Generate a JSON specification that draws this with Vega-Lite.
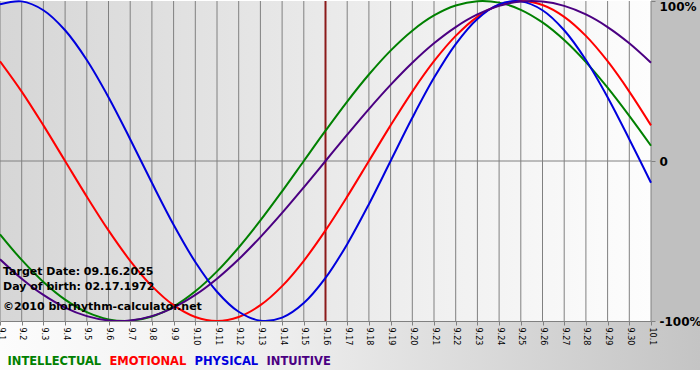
{
  "$schema": "https://vega.github.io/schema/vega-lite/v6.json",
  "width": 651,
  "height": 320,
  "autosize": {"type": "none"},
  "padding": {"left": 0, "top": 1, "right": 49, "bottom": 59},
  "background": "#ffffff",
  "config": {
    "view": {"stroke": "#808080", "strokeWidth": 1},
    "font": "DejaVu Sans",
    "axis": {"title": null, "grid": false, "zindex": 1, "tickColor": "#808080", "domainColor": "#808080", "labelColor": "#000000", "labelFont": "DejaVu Sans"}
  },
  "data": {"values": [
    {"date": "2025-09-01", "intellectual": -0.4582, "emotional": 0.6235, "physical": 0.9791, "intuitive": -0.6142},
    {"date": "2025-09-02", "intellectual": -0.6182, "emotional": 0.4339, "physical": 0.9977, "intuitive": -0.7357},
    {"date": "2025-09-03", "intellectual": -0.7557, "emotional": 0.2225, "physical": 0.9423, "intuitive": -0.8372},
    {"date": "2025-09-04", "intellectual": -0.8660, "emotional": 0.0, "physical": 0.8170, "intuitive": -0.9158},
    {"date": "2025-09-05", "intellectual": -0.9450, "emotional": -0.2225, "physical": 0.6311, "intuitive": -0.9694},
    {"date": "2025-09-06", "intellectual": -0.9898, "emotional": -0.4339, "physical": 0.3984, "intuitive": -0.9966},
    {"date": "2025-09-07", "intellectual": -0.9989, "emotional": -0.6235, "physical": 0.1362, "intuitive": -0.9966},
    {"date": "2025-09-08", "intellectual": -0.9718, "emotional": -0.7818, "physical": -0.1362, "intuitive": -0.9694},
    {"date": "2025-09-09", "intellectual": -0.9096, "emotional": -0.9010, "physical": -0.3984, "intuitive": -0.9158},
    {"date": "2025-09-10", "intellectual": -0.8146, "emotional": -0.9749, "physical": -0.6311, "intuitive": -0.8372},
    {"date": "2025-09-11", "intellectual": -0.6901, "emotional": -1.0, "physical": -0.8170, "intuitive": -0.7357},
    {"date": "2025-09-12", "intellectual": -0.5406, "emotional": -0.9749, "physical": -0.9423, "intuitive": -0.6142},
    {"date": "2025-09-13", "intellectual": -0.3717, "emotional": -0.9010, "physical": -0.9977, "intuitive": -0.4759},
    {"date": "2025-09-14", "intellectual": -0.1893, "emotional": -0.7818, "physical": -0.9791, "intuitive": -0.3247},
    {"date": "2025-09-15", "intellectual": 0.0, "emotional": -0.6235, "physical": -0.8879, "intuitive": -0.1646},
    {"date": "2025-09-16", "intellectual": 0.1893, "emotional": -0.4339, "physical": -0.7308, "intuitive": 0.0},
    {"date": "2025-09-17", "intellectual": 0.3717, "emotional": -0.2225, "physical": -0.5196, "intuitive": 0.1646},
    {"date": "2025-09-18", "intellectual": 0.5406, "emotional": 0.0, "physical": -0.2698, "intuitive": 0.3247},
    {"date": "2025-09-19", "intellectual": 0.6901, "emotional": 0.2225, "physical": 0.0, "intuitive": 0.4759},
    {"date": "2025-09-20", "intellectual": 0.8146, "emotional": 0.4339, "physical": 0.2698, "intuitive": 0.6142},
    {"date": "2025-09-21", "intellectual": 0.9096, "emotional": 0.6235, "physical": 0.5196, "intuitive": 0.7357},
    {"date": "2025-09-22", "intellectual": 0.9718, "emotional": 0.7818, "physical": 0.7308, "intuitive": 0.8372},
    {"date": "2025-09-23", "intellectual": 0.9989, "emotional": 0.9010, "physical": 0.8879, "intuitive": 0.9158},
    {"date": "2025-09-24", "intellectual": 0.9898, "emotional": 0.9749, "physical": 0.9791, "intuitive": 0.9694},
    {"date": "2025-09-25", "intellectual": 0.9450, "emotional": 1.0, "physical": 0.9977, "intuitive": 0.9966},
    {"date": "2025-09-26", "intellectual": 0.8660, "emotional": 0.9749, "physical": 0.9423, "intuitive": 0.9966},
    {"date": "2025-09-27", "intellectual": 0.7557, "emotional": 0.9010, "physical": 0.8170, "intuitive": 0.9694},
    {"date": "2025-09-28", "intellectual": 0.6182, "emotional": 0.7818, "physical": 0.6311, "intuitive": 0.9158},
    {"date": "2025-09-29", "intellectual": 0.4582, "emotional": 0.6235, "physical": 0.3984, "intuitive": 0.8372},
    {"date": "2025-09-30", "intellectual": 0.2817, "emotional": 0.4339, "physical": 0.1362, "intuitive": 0.7357},
    {"date": "2025-10-01", "intellectual": 0.0951, "emotional": 0.2225, "physical": -0.1362, "intuitive": 0.6142}
  ]},
  "layer": [
    {
      "transform": [{"fold": ["intellectual", "emotional", "physical", "intuitive"], "as": ["cycle", "value"]}],
      "mark": {"type": "line", "interpolate": "catmull-rom", "strokeWidth": 2, "opacity": 0},
      "encoding": {
        "x": {
          "field": "date", "type": "temporal",
          "scale": {"type": "utc", "domain": [{"year": 2025, "month": 9, "date": 1, "utc": true}, {"year": 2025, "month": 10, "date": 1, "utc": true}], "nice": false},
          "axis": {"orient": "bottom", "title": null, "grid": false, "tickCount": {"interval": "day", "step": 1}, "format": "%-m.%-d", "labelAngle": 90, "labelOverlap": false, "labelFlush": false, "labelBound": false, "labelFontSize": 8, "labelPadding": 2, "tickSize": 4, "zindex": 1}
        },
        "y": {
          "field": "value", "type": "quantitative",
          "scale": {"domain": [-1, 1], "nice": false, "zero": false},
          "axis": {"orient": "right", "title": null, "grid": false, "values": [-1, 0, 1], "labelExpr": "datum.value == 1 ? '100%' : datum.value == 0 ? '0' : '-100%'", "domain": false, "ticks": true, "tickSize": 4, "labelPadding": 4, "labelFontSize": 12, "labelFontWeight": "bold", "labelAlign": "left", "labelBaseline": {"condition": {"test": "datum.value == 1", "value": "top"}, "value": "middle"}, "zindex": 1}
        }
      }
    },
    {
      "data": {"values": [{}]},
      "mark": {"type": "rect", "fill": {"gradient": "linear", "x1": 0, "y1": 0, "x2": 1, "y2": 0, "stops": [{"offset": 0, "color": "#d6d6d6"}, {"offset": 1, "color": "#fdfdfd"}]}},
      "encoding": {}
    },
    {
      "data": {"values": [{}]},
      "mark": {"type": "rect", "fill": "#c0c0c0"},
      "encoding": {
        "x": {"datum": {"year": 2025, "month": 10, "date": 1, "utc": true}, "type": "temporal"},
        "x2": {"datum": {"year": 2025, "month": 10, "date": 3, "hours": 6, "minutes": 12, "utc": true}},
        "y": {"datum": 1.01, "type": "quantitative"},
        "y2": {"datum": -1}
      }
    },
    {
      "data": {"values": [{}]},
      "mark": {"type": "rect", "fill": {"gradient": "linear", "x1": 0, "y1": 0, "x2": 1, "y2": 0, "stops": [{"offset": 0, "color": "#fcfcfc"}, {"offset": 0.4, "color": "#eeeeee"}, {"offset": 1, "color": "#c4c4c4"}]}},
      "encoding": {
        "x": {"datum": {"year": 2025, "month": 9, "date": 1, "utc": true}, "type": "temporal"},
        "x2": {"datum": {"year": 2025, "month": 10, "date": 3, "hours": 6, "minutes": 12, "utc": true}},
        "y": {"datum": -1, "type": "quantitative"},
        "y2": {"datum": -1.306}
      }
    },
    {
      "mark": {"type": "rule", "color": "#808080", "strokeWidth": 1},
      "encoding": {
        "x": {"field": "date", "type": "temporal"}
      }
    },
    {
      "data": {"values": [{}]},
      "mark": {"type": "rule", "color": "#808080", "strokeWidth": 1},
      "encoding": {
        "y": {"datum": 0, "type": "quantitative"}
      }
    },
    {
      "data": {"values": [{}]},
      "mark": {"type": "rule", "color": "#8b1a1a", "strokeWidth": 2},
      "encoding": {
        "x": {"datum": {"year": 2025, "month": 9, "date": 16, "utc": true}, "type": "temporal"}
      }
    },
    {
      "transform": [{"fold": ["intellectual", "emotional", "physical", "intuitive"], "as": ["cycle", "value"]}],
      "mark": {"type": "line", "interpolate": "catmull-rom", "strokeWidth": 2},
      "encoding": {
        "x": {"field": "date", "type": "temporal"},
        "y": {"field": "value", "type": "quantitative"},
        "color": {
          "field": "cycle", "type": "nominal",
          "scale": {"domain": ["intellectual", "emotional", "physical", "intuitive"], "range": ["#008000", "#ff0000", "#0000dd", "#4b0082"]},
          "legend": {"orient": "none", "legendX": 0, "legendY": 355, "direction": "horizontal", "title": null, "labelExpr": "upper(datum.label)", "labelFont": "DejaVu Sans", "labelFontSize": 11.5, "labelFontWeight": "bold", "symbolSize": 0, "symbolOpacity": 0, "symbolStrokeWidth": 0, "labelOffset": -4, "columnPadding": 0, "padding": 0, "encode": {"labels": {"update": {"fill": {"scale": "color", "field": "value"}}}}}
        }
      }
    },
    {
      "data": {"values": [{}]},
      "mark": {"type": "text", "align": "left", "baseline": "middle", "dx": 3, "font": "DejaVu Sans", "fontSize": 11, "fontWeight": "bold", "color": "#000000"},
      "encoding": {
        "x": {"datum": {"year": 2025, "month": 9, "date": 1, "utc": true}, "type": "temporal"},
        "y": {"datum": -0.694, "type": "quantitative"},
        "text": {"value": "Target Date: 09.16.2025"}
      }
    },
    {
      "data": {"values": [{}]},
      "mark": {"type": "text", "align": "left", "baseline": "middle", "dx": 3, "font": "DejaVu Sans", "fontSize": 11, "fontWeight": "bold", "color": "#000000"},
      "encoding": {
        "x": {"datum": {"year": 2025, "month": 9, "date": 1, "utc": true}, "type": "temporal"},
        "y": {"datum": -0.7875, "type": "quantitative"},
        "text": {"value": "Day of birth: 02.17.1972"}
      }
    },
    {
      "data": {"values": [{}]},
      "mark": {"type": "text", "align": "left", "baseline": "middle", "dx": 3, "font": "DejaVu Sans", "fontSize": 11, "fontWeight": "bold", "color": "#000000"},
      "encoding": {
        "x": {"datum": {"year": 2025, "month": 9, "date": 1, "utc": true}, "type": "temporal"},
        "y": {"datum": -0.9125, "type": "quantitative"},
        "text": {"value": "©2010 biorhythm-calculator.net"}
      }
    }
  ]
}
